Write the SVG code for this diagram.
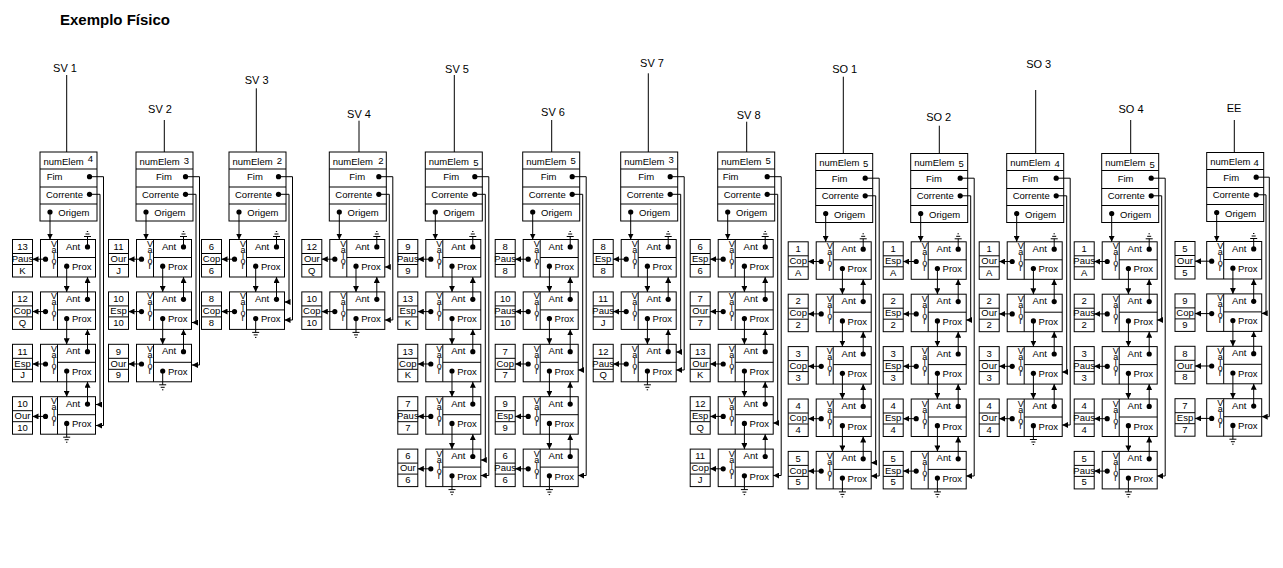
<svg xmlns="http://www.w3.org/2000/svg" xmlns:xlink="http://www.w3.org/1999/xlink" width="1283" height="568" viewBox="0 0 1283 568">
<style>
.l{stroke:#000;stroke-width:1;fill:none}
.b{fill:#fff;stroke:#000;stroke-width:1}
.a{stroke:#000;stroke-width:1;fill:none;marker-end:url(#ah)}
text{font-family:"Liberation Sans",Arial,sans-serif;font-size:9.5px;fill:#000}
.v{font-size:9px;text-anchor:middle}
.c{font-size:9.5px;text-anchor:middle}
.m{text-anchor:middle}
.lb{font-size:11px;text-anchor:middle}
.ti{font-size:15px;font-weight:bold}
</style>
<defs>
<marker id="ah" viewBox="0 0 6 6" refX="6" refY="3" markerWidth="6" markerHeight="6" orient="auto" markerUnits="userSpaceOnUse"><path d="M0 0L6 3L0 6z" fill="#000"/></marker>
<g id="hd">
<rect class="b" x="0" y="0" width="57" height="69"/>
<path class="l" d="M0 17H57M0 35H57M0 52H57"/>
<text x="3.5" y="12.5">numElem</text>
<text x="6" y="45.5">Corrente</text>
<circle cx="49.5" cy="24.7" r="2.6"/>
<circle cx="49.5" cy="42.3" r="2.6"/>
<circle cx="10" cy="60" r="2.6"/>
<text x="18.3" y="64">Origem</text>
</g>
<g id="nb">
<rect class="b" x="0" y="0" width="55" height="37.5"/>
<path class="l" d="M17 0V37.5M17 18H55"/>
<text class="v" x="13.5" y="7.5">V</text><text class="v" x="13.5" y="13.5">a</text><text class="v" x="13.5" y="19.5">l</text><text class="v" x="13.5" y="24.5">o</text><text class="v" x="13.5" y="29.5">r</text>
<circle cx="5" cy="19.7" r="2.6"/>
<text x="25.4" y="10">Ant</text>
<circle cx="47" cy="7.4" r="2.6"/>
<text x="31.4" y="30.5">Prox</text>
<circle cx="26.2" cy="26.7" r="2.6"/>
</g>
<g id="vb">
<rect class="b" x="0" y="0" width="20" height="37.5"/>
<path class="l" d="M0 14H20M0 25H20"/>
</g>
<g id="nd"><use href="#vb" x="-28"/><use href="#nb"/><path class="a" d="M5 19.7H-8"/></g>
<g id="ne"><use href="#vb" x="-31.7"/><use href="#nb"/><path class="a" d="M5 19.7H-11.7"/></g>
<g id="lk"><path class="a" d="M26.2 26.7V52.4"/><path class="a" d="M47 59.8V37.5"/></g>
<path id="gt" class="l" d="M47 7.4V-3M43.5 -3H50.5M45 -5.5H49M46.3 -8H47.7"/>
<path id="gb" class="l" d="M26.2 26.7V40.5M22.7 40.5H29.7M24.2 43H28.2M25.5 45.5H26.9"/>
</defs>
<rect x="0" y="0" width="1283" height="568" fill="#fff"/>
<text class="ti" x="60" y="25">Exemplo Físico</text>

<g id="labels">
<text class="lb" x="65" y="72.3">SV 1</text>
<text class="lb" x="160" y="113.3">SV 2</text>
<text class="lb" x="256.7" y="84">SV 3</text>
<text class="lb" x="359" y="118">SV 4</text>
<text class="lb" x="457" y="73">SV 5</text>
<text class="lb" x="553" y="115.7">SV 6</text>
<text class="lb" x="652" y="67.3">SV 7</text>
<text class="lb" x="748.7" y="119">SV 8</text>
<text class="lb" x="844.7" y="73">SO 1</text>
<text class="lb" x="938.7" y="121.3">SO 2</text>
<text class="lb" x="1038.7" y="68.3">SO 3</text>
<text class="lb" x="1131" y="113.3">SO 4</text>
<text class="lb" x="1234" y="112.3">EE</text>
</g>

<g id="sv1"><g transform="translate(40 152)"><use href="#hd"/><text x="6.7" y="28">Fim</text><text class="m" x="50.5" y="9.5">4</text></g>
<g id="sv1n1" transform="translate(40.5 239.5)"><use href="#nd"/><text class="c" x="-18" y="10.3">13</text><text class="c" x="-18" y="22.3">Paus</text><text class="c" x="-18" y="34">K</text></g>
<g id="sv1n2" transform="translate(40.5 291.9)"><use href="#nd"/><text class="c" x="-18" y="10.3">12</text><text class="c" x="-18" y="22.3">Cop</text><text class="c" x="-18" y="34">Q</text></g>
<g id="sv1n3" transform="translate(40.5 344.3)"><use href="#nd"/><text class="c" x="-18" y="10.3">11</text><text class="c" x="-18" y="22.3">Esp</text><text class="c" x="-18" y="34">J</text></g>
<g id="sv1n4" transform="translate(40.5 396.7)"><use href="#nd"/><text class="c" x="-18" y="10.3">10</text><text class="c" x="-18" y="22.3">Our</text><text class="c" x="-18" y="34">10</text></g>
</g>

<g id="sv2"><g transform="translate(136 152)"><use href="#hd"/><text x="20" y="28">Fim</text><text class="m" x="50.5" y="12">3</text></g>
<g id="sv2n1" transform="translate(136.5 239.5)"><use href="#nd"/><text class="c" x="-18" y="10.3">11</text><text class="c" x="-18" y="22.3">Our</text><text class="c" x="-18" y="34">J</text></g>
<g id="sv2n2" transform="translate(136.5 291.9)"><use href="#nd"/><text class="c" x="-18" y="10.3">10</text><text class="c" x="-18" y="22.3">Esp</text><text class="c" x="-18" y="34">10</text></g>
<g id="sv2n3" transform="translate(136.5 344.3)"><use href="#nd"/><text class="c" x="-18" y="10.3">9</text><text class="c" x="-18" y="22.3">Our</text><text class="c" x="-18" y="34">9</text></g>
</g>

<g id="sv3"><g transform="translate(229 152)"><use href="#hd"/><text x="18" y="28">Fim</text><text class="m" x="50.5" y="12">2</text></g>
<g id="sv3n1" transform="translate(229.5 239.5)"><use href="#nd"/><text class="c" x="-18" y="10.3">6</text><text class="c" x="-18" y="22.3">Cop</text><text class="c" x="-18" y="34">6</text></g>
<g id="sv3n2" transform="translate(229.5 291.9)"><use href="#nd"/><text class="c" x="-18" y="10.3">8</text><text class="c" x="-18" y="22.3">Cop</text><text class="c" x="-18" y="34">8</text></g>
</g>

<g id="sv4"><g transform="translate(329.3 152)"><use href="#hd"/><text x="20" y="28">Fim</text><text class="m" x="51.5" y="11.5">2</text></g>
<g id="sv4n1" transform="translate(329.8 239.5)"><use href="#nd"/><text class="c" x="-18" y="10.3">12</text><text class="c" x="-18" y="22.3">Our</text><text class="c" x="-18" y="34">Q</text></g>
<g id="sv4n2" transform="translate(329.8 291.9)"><use href="#nd"/><text class="c" x="-18" y="10.3">10</text><text class="c" x="-18" y="22.3">Cop</text><text class="c" x="-18" y="34">10</text></g>
</g>

<g id="sv5"><g transform="translate(425.3 152)"><use href="#hd"/><text x="18" y="28">Fim</text><text class="m" x="50.5" y="13.8">5</text></g>
<g id="sv5n1" transform="translate(425.8 239.5)"><use href="#nd"/><text class="c" x="-18" y="10.3">9</text><text class="c" x="-18" y="22.3">Paus</text><text class="c" x="-18" y="34">9</text></g>
<g id="sv5n2" transform="translate(425.8 291.9)"><use href="#nd"/><text class="c" x="-18" y="10.3">13</text><text class="c" x="-18" y="22.3">Esp</text><text class="c" x="-18" y="34">K</text></g>
<g id="sv5n3" transform="translate(425.8 344.3)"><use href="#nd"/><text class="c" x="-18" y="10.3">13</text><text class="c" x="-18" y="22.3">Cop</text><text class="c" x="-18" y="34">K</text></g>
<g id="sv5n4" transform="translate(425.8 396.7)"><use href="#nd"/><text class="c" x="-18" y="10.3">7</text><text class="c" x="-18" y="22.3">Paus</text><text class="c" x="-18" y="34">7</text></g>
<g id="sv5n5" transform="translate(425.8 449.1)"><use href="#nd"/><text class="c" x="-18" y="10.3">6</text><text class="c" x="-18" y="22.3">Our</text><text class="c" x="-18" y="34">6</text></g>
</g>

<g id="sv6"><g transform="translate(522.7 152)"><use href="#hd"/><text x="18" y="28">Fim</text><text class="m" x="50.5" y="12.2">5</text></g>
<g id="sv6n1" transform="translate(523.2 239.5)"><use href="#nd"/><text class="c" x="-18" y="10.3">8</text><text class="c" x="-18" y="22.3">Paus</text><text class="c" x="-18" y="34">8</text></g>
<g id="sv6n2" transform="translate(523.2 291.9)"><use href="#nd"/><text class="c" x="-18" y="10.3">10</text><text class="c" x="-18" y="22.3">Paus</text><text class="c" x="-18" y="34">10</text></g>
<g id="sv6n3" transform="translate(523.2 344.3)"><use href="#nd"/><text class="c" x="-18" y="10.3">7</text><text class="c" x="-18" y="22.3">Cop</text><text class="c" x="-18" y="34">7</text></g>
<g id="sv6n4" transform="translate(523.2 396.7)"><use href="#nd"/><text class="c" x="-18" y="10.3">9</text><text class="c" x="-18" y="22.3">Esp</text><text class="c" x="-18" y="34">9</text></g>
<g id="sv6n5" transform="translate(523.2 449.1)"><use href="#nd"/><text class="c" x="-18" y="10.3">6</text><text class="c" x="-18" y="22.3">Paus</text><text class="c" x="-18" y="34">6</text></g>
</g>

<g id="sv7"><g transform="translate(620.7 152)"><use href="#hd"/><text x="17.6" y="28">Fim</text><text class="m" x="50.5" y="11">3</text></g>
<g id="sv7n1" transform="translate(621.2 239.5)"><use href="#nd"/><text class="c" x="-18" y="10.3">8</text><text class="c" x="-18" y="22.3">Esp</text><text class="c" x="-18" y="34">8</text></g>
<g id="sv7n2" transform="translate(621.2 291.9)"><use href="#nd"/><text class="c" x="-18" y="10.3">11</text><text class="c" x="-18" y="22.3">Paus</text><text class="c" x="-18" y="34">J</text></g>
<g id="sv7n3" transform="translate(621.2 344.3)"><use href="#nd"/><text class="c" x="-18" y="10.3">12</text><text class="c" x="-18" y="22.3">Paus</text><text class="c" x="-18" y="34">Q</text></g>
</g>

<g id="sv8"><g transform="translate(717.7 152)"><use href="#hd"/><text x="5" y="28">Fim</text><text class="m" x="50.5" y="12">5</text></g>
<g id="sv8n1" transform="translate(718.2 239.5)"><use href="#nd"/><text class="c" x="-18" y="10.3">6</text><text class="c" x="-18" y="22.3">Esp</text><text class="c" x="-18" y="34">6</text></g>
<g id="sv8n2" transform="translate(718.2 291.9)"><use href="#nd"/><text class="c" x="-18" y="10.3">7</text><text class="c" x="-18" y="22.3">Our</text><text class="c" x="-18" y="34">7</text></g>
<g id="sv8n3" transform="translate(718.2 344.3)"><use href="#nd"/><text class="c" x="-18" y="10.3">13</text><text class="c" x="-18" y="22.3">Our</text><text class="c" x="-18" y="34">K</text></g>
<g id="sv8n4" transform="translate(718.2 396.7)"><use href="#nd"/><text class="c" x="-18" y="10.3">12</text><text class="c" x="-18" y="22.3">Esp</text><text class="c" x="-18" y="34">Q</text></g>
<g id="sv8n5" transform="translate(718.2 449.1)"><use href="#nd"/><text class="c" x="-18" y="10.3">11</text><text class="c" x="-18" y="22.3">Cop</text><text class="c" x="-18" y="34">J</text></g>
</g>

<g id="so1"><g transform="translate(815.7 153.5)"><use href="#hd"/><text x="16" y="28">Fim</text><text class="m" x="50" y="13.5">5</text></g>
<g id="so1n1" transform="translate(816.2 241.8)"><use href="#nd"/><text class="c" x="-18" y="10.3">1</text><text class="c" x="-18" y="22.3">Cop</text><text class="c" x="-18" y="34">A</text></g>
<g id="so1n2" transform="translate(816.2 294.2)"><use href="#nd"/><text class="c" x="-18" y="10.3">2</text><text class="c" x="-18" y="22.3">Cop</text><text class="c" x="-18" y="34">2</text></g>
<g id="so1n3" transform="translate(816.2 346.6)"><use href="#nd"/><text class="c" x="-18" y="10.3">3</text><text class="c" x="-18" y="22.3">Cop</text><text class="c" x="-18" y="34">3</text></g>
<g id="so1n4" transform="translate(816.2 399)"><use href="#nd"/><text class="c" x="-18" y="10.3">4</text><text class="c" x="-18" y="22.3">Cop</text><text class="c" x="-18" y="34">4</text></g>
<g id="so1n5" transform="translate(816.2 451.4)"><use href="#nd"/><text class="c" x="-18" y="10.3">5</text><text class="c" x="-18" y="22.3">Cop</text><text class="c" x="-18" y="34">5</text></g>
</g>

<g id="so2"><g transform="translate(910.7 153.5)"><use href="#hd"/><text x="15.3" y="28">Fim</text><text class="m" x="50.5" y="13.5">5</text></g>
<g id="so2n1" transform="translate(911.2 241.8)"><use href="#nd"/><text class="c" x="-18" y="10.3">1</text><text class="c" x="-18" y="22.3">Esp</text><text class="c" x="-18" y="34">A</text></g>
<g id="so2n2" transform="translate(911.2 294.2)"><use href="#nd"/><text class="c" x="-18" y="10.3">2</text><text class="c" x="-18" y="22.3">Esp</text><text class="c" x="-18" y="34">2</text></g>
<g id="so2n3" transform="translate(911.2 346.6)"><use href="#nd"/><text class="c" x="-18" y="10.3">3</text><text class="c" x="-18" y="22.3">Esp</text><text class="c" x="-18" y="34">3</text></g>
<g id="so2n4" transform="translate(911.2 399)"><use href="#nd"/><text class="c" x="-18" y="10.3">4</text><text class="c" x="-18" y="22.3">Esp</text><text class="c" x="-18" y="34">4</text></g>
<g id="so2n5" transform="translate(911.2 451.4)"><use href="#nd"/><text class="c" x="-18" y="10.3">5</text><text class="c" x="-18" y="22.3">Esp</text><text class="c" x="-18" y="34">5</text></g>
</g>

<g id="so3"><g transform="translate(1006.7 153.5)"><use href="#hd"/><text x="15.6" y="28">Fim</text><text class="m" x="50.5" y="13.5">4</text></g>
<g id="so3n1" transform="translate(1007.2 241.8)"><use href="#nd"/><text class="c" x="-18" y="10.3">1</text><text class="c" x="-18" y="22.3">Our</text><text class="c" x="-18" y="34">A</text></g>
<g id="so3n2" transform="translate(1007.2 294.2)"><use href="#nd"/><text class="c" x="-18" y="10.3">2</text><text class="c" x="-18" y="22.3">Our</text><text class="c" x="-18" y="34">2</text></g>
<g id="so3n3" transform="translate(1007.2 346.6)"><use href="#nd"/><text class="c" x="-18" y="10.3">3</text><text class="c" x="-18" y="22.3">Our</text><text class="c" x="-18" y="34">3</text></g>
<g id="so3n4" transform="translate(1007.2 399)"><use href="#nd"/><text class="c" x="-18" y="10.3">4</text><text class="c" x="-18" y="22.3">Our</text><text class="c" x="-18" y="34">4</text></g>
</g>

<g id="so4"><g transform="translate(1101.7 153.5)"><use href="#hd"/><text x="16" y="28">Fim</text><text class="m" x="50.5" y="14">5</text></g>
<g id="so4n1" transform="translate(1102.2 241.8)"><use href="#nd"/><text class="c" x="-18" y="10.3">1</text><text class="c" x="-18" y="22.3">Paus</text><text class="c" x="-18" y="34">A</text></g>
<g id="so4n2" transform="translate(1102.2 294.2)"><use href="#nd"/><text class="c" x="-18" y="10.3">2</text><text class="c" x="-18" y="22.3">Paus</text><text class="c" x="-18" y="34">2</text></g>
<g id="so4n3" transform="translate(1102.2 346.6)"><use href="#nd"/><text class="c" x="-18" y="10.3">3</text><text class="c" x="-18" y="22.3">Paus</text><text class="c" x="-18" y="34">3</text></g>
<g id="so4n4" transform="translate(1102.2 399)"><use href="#nd"/><text class="c" x="-18" y="10.3">4</text><text class="c" x="-18" y="22.3">Paus</text><text class="c" x="-18" y="34">4</text></g>
<g id="so4n5" transform="translate(1102.2 451.4)"><use href="#nd"/><text class="c" x="-18" y="10.3">5</text><text class="c" x="-18" y="22.3">Paus</text><text class="c" x="-18" y="34">5</text></g>
</g>

<g id="ee"><g transform="translate(1206.7 152.5)"><use href="#hd"/><text x="16.6" y="28">Fim</text><text class="m" x="49.5" y="13">4</text></g>
<g id="een1" transform="translate(1206.7 241.5)"><use href="#ne"/><text class="c" x="-21.7" y="10.3">5</text><text class="c" x="-21.7" y="22.3">Our</text><text class="c" x="-21.7" y="34">5</text></g>
<g id="een2" transform="translate(1206.7 293.9)"><use href="#ne"/><text class="c" x="-21.7" y="10.3">9</text><text class="c" x="-21.7" y="22.3">Cop</text><text class="c" x="-21.7" y="34">9</text></g>
<g id="een3" transform="translate(1206.7 346.3)"><use href="#ne"/><text class="c" x="-21.7" y="10.3">8</text><text class="c" x="-21.7" y="22.3">Our</text><text class="c" x="-21.7" y="34">8</text></g>
<g id="een4" transform="translate(1206.7 398.7)"><use href="#ne"/><text class="c" x="-21.7" y="10.3">7</text><text class="c" x="-21.7" y="22.3">Esp</text><text class="c" x="-21.7" y="34">7</text></g>
</g>

<g id="connectors">
<path class="l" d="M66.7 75V152M164.3 120V152M256.3 88.3V152M359 120.7V152M454.3 75V152M551.7 120V152M648.3 73.3V152M746.7 121.7V152M843.3 76.7V153.5M939.3 125.7V153.5M1035.7 90V153.5M1130.7 120V153.5M1234.3 120V152.5"/>
<path class="a" d="M89.5 176.7H103.5V425.5H96"/>
<path class="a" d="M89.5 194.3H100V404.5H96"/>
<path class="a" d="M50 212V239.5"/>
<use href="#gt" x="40.5" y="239.5"/><use href="#lk" x="40.5" y="239.5"/><use href="#lk" x="40.5" y="291.9"/><use href="#lk" x="40.5" y="344.3"/><use href="#gb" x="40.5" y="396.7"/>
<path class="a" d="M185.5 176.7H199.5V365H192"/>
<path class="a" d="M185.5 194.3H196V322.5H192"/>
<path class="a" d="M146 212V239.5"/>
<use href="#gt" x="136.5" y="239.5"/><use href="#lk" x="136.5" y="239.5"/><use href="#lk" x="136.5" y="291.9"/><use href="#gb" x="136.5" y="344.3"/>
<path class="a" d="M278.5 176.7H292.5V320H284.5"/>
<path class="a" d="M278.5 194.3H289V302H284.5"/>
<path class="a" d="M239 212V239.5"/>
<use href="#gt" x="229.5" y="239.5"/><use href="#lk" x="229.5" y="239.5"/><use href="#gb" x="229.5" y="291.9"/>
<path class="a" d="M378.8 176.7H392.8V320H384.8"/>
<path class="a" d="M378.8 194.3H389.3V267H384.8"/>
<path class="a" d="M339.3 212V239.5"/>
<use href="#gt" x="329.8" y="239.5"/><use href="#lk" x="329.8" y="239.5"/><use href="#gb" x="329.8" y="291.9"/>
<path class="a" d="M474.8 176.7H488.8V475.5H480.8"/>
<path class="a" d="M474.8 194.3H485.3V460H480.8"/>
<path class="a" d="M435.3 212V239.5"/>
<use href="#gt" x="425.8" y="239.5"/><use href="#lk" x="425.8" y="239.5"/><use href="#lk" x="425.8" y="291.9"/><use href="#lk" x="425.8" y="344.3"/><use href="#lk" x="425.8" y="396.7"/><use href="#gb" x="425.8" y="449.1"/>
<path class="a" d="M572.2 176.7H586.2V475.5H578.2"/>
<path class="a" d="M572.2 194.3H582.7V370H578.2"/>
<path class="a" d="M532.7 212V239.5"/>
<use href="#gt" x="523.2" y="239.5"/><use href="#lk" x="523.2" y="239.5"/><use href="#lk" x="523.2" y="291.9"/><use href="#lk" x="523.2" y="344.3"/><use href="#lk" x="523.2" y="396.7"/><use href="#gb" x="523.2" y="449.1"/>
<path class="a" d="M670.2 176.7H684.2V370H676.2"/>
<path class="a" d="M670.2 194.3H680.7V352H676.2"/>
<path class="a" d="M630.7 212V239.5"/>
<use href="#gt" x="621.2" y="239.5"/><use href="#lk" x="621.2" y="239.5"/><use href="#lk" x="621.2" y="291.9"/><use href="#gb" x="621.2" y="344.3"/>
<path class="a" d="M767.2 176.7H781.2V475.5H773.2"/>
<path class="a" d="M767.2 194.3H777.7V423H773.2"/>
<path class="a" d="M727.7 212V239.5"/>
<use href="#gt" x="718.2" y="239.5"/><use href="#lk" x="718.2" y="239.5"/><use href="#lk" x="718.2" y="291.9"/><use href="#lk" x="718.2" y="344.3"/><use href="#lk" x="718.2" y="396.7"/><use href="#gb" x="718.2" y="449.1"/>
<path class="a" d="M865.2 178.2H879.2V476H871.2"/>
<path class="a" d="M865.2 195.8H875.7V462.7H871.2"/>
<path class="a" d="M825.7 213.5V241.8"/>
<use href="#gt" x="816.2" y="241.8"/><use href="#lk" x="816.2" y="241.8"/><use href="#lk" x="816.2" y="294.2"/><use href="#lk" x="816.2" y="346.6"/><use href="#lk" x="816.2" y="399"/><use href="#gb" x="816.2" y="451.4"/>
<path class="a" d="M960.2 178.2H974.2V476H966.2"/>
<path class="a" d="M960.2 195.8H970.7V320H966.2"/>
<path class="a" d="M920.7 213.5V241.8"/>
<use href="#gt" x="911.2" y="241.8"/><use href="#lk" x="911.2" y="241.8"/><use href="#lk" x="911.2" y="294.2"/><use href="#lk" x="911.2" y="346.6"/><use href="#lk" x="911.2" y="399"/><use href="#gb" x="911.2" y="451.4"/>
<path class="a" d="M1056.2 178.2H1070.2V425H1062.2"/>
<path class="a" d="M1056.2 195.8H1066.7V372H1062.2"/>
<path class="a" d="M1016.7 213.5V241.8"/>
<use href="#gt" x="1007.2" y="241.8"/><use href="#lk" x="1007.2" y="241.8"/><use href="#lk" x="1007.2" y="294.2"/><use href="#lk" x="1007.2" y="346.6"/><use href="#gb" x="1007.2" y="399"/>
<path class="a" d="M1151.2 178.2H1165.2V476H1157.2"/>
<path class="a" d="M1151.2 195.8H1161.7V320H1157.2"/>
<path class="a" d="M1111.7 213.5V241.8"/>
<use href="#gt" x="1102.2" y="241.8"/><use href="#lk" x="1102.2" y="241.8"/><use href="#lk" x="1102.2" y="294.2"/><use href="#lk" x="1102.2" y="346.6"/><use href="#lk" x="1102.2" y="399"/><use href="#gb" x="1102.2" y="451.4"/>
<path class="a" d="M1256.2 177.2H1269.3V416.7H1261.7"/>
<path class="a" d="M1256.2 194.8H1266V313.3H1261.7"/>
<path class="a" d="M1216.7 212.5V241.5"/>
<use href="#gt" x="1206.7" y="241.5"/><use href="#lk" x="1206.7" y="241.5"/><use href="#lk" x="1206.7" y="293.9"/><use href="#lk" x="1206.7" y="346.3"/><use href="#gb" x="1206.7" y="398.7"/>
</g>
</svg>
